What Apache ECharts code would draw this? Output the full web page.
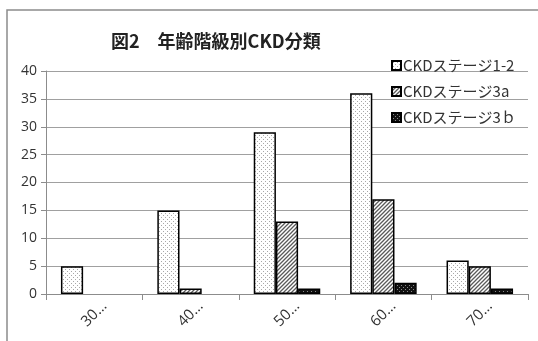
<!DOCTYPE html>
<html>
<head>
<meta charset="utf-8">
<script src="https://cdn.jsdelivr.net/npm/echarts@6/dist/echarts.min.js"></script>
<style>
  html, body { margin: 0; padding: 0; background: #fff; }
  #chart { width: 538px; height: 341px; }
</style>
</head>
<body>
<div id="chart"></div>
<script>
// Age-group categories and counts per CKD stage
const categories = ['30…', '40…', '50…', '60…', '70…'];
const stage12 = [5, 15, 29, 36, 6];
const stage3a = [0, 1, 13, 17, 5];
const stage3b = [0, 0, 1, 2, 1];
const seriesNames = ['CKDステージ1-2', 'CKDステージ3a', 'CKDステージ3ｂ'];
const yTicks = { min: 0, max: 40, interval: 5 };

// Fill patterns drawn on small canvases
function makeCanvas(size, draw) {
  const c = document.createElement('canvas');
  c.width = size; c.height = size;
  draw(c.getContext('2d'), size);
  return c;
}
const dotPattern = makeCanvas(4, (ctx, s) => {
  ctx.fillStyle = '#ffffff'; ctx.fillRect(0, 0, s, s);
  ctx.fillStyle = '#a8a8a8';
  ctx.fillRect(1, 1, 1, 1);
  ctx.fillRect(3, 3, 1, 1);
});
const hatchPattern = makeCanvas(4, (ctx, s) => {
  ctx.fillStyle = '#ffffff'; ctx.fillRect(0, 0, s, s);
  ctx.strokeStyle = '#5a5a5a'; ctx.lineWidth = 1.3;
  ctx.beginPath();
  ctx.moveTo(-1, s + 1); ctx.lineTo(s + 1, -1);
  ctx.moveTo(-1, 1); ctx.lineTo(1, -1);
  ctx.moveTo(s - 1, s + 1); ctx.lineTo(s + 1, s - 1);
  ctx.stroke();
});
const darkDotPattern = makeCanvas(4, (ctx, s) => {
  ctx.fillStyle = '#111111'; ctx.fillRect(0, 0, s, s);
  ctx.fillStyle = '#8a8a8a';
  ctx.fillRect(1, 1, 1, 1);
  ctx.fillRect(3, 3, 1, 1);
});

const patterns = [dotPattern, hatchPattern, darkDotPattern];
const values = [stage12, stage3a, stage3b];

const chart = echarts.init(document.getElementById('chart'));
chart.setOption({
  animation: false,
  backgroundColor: '#ffffff',
  graphic: [{
    type: 'rect',
    shape: { x: 7, y: 10, width: 700, height: 500 },
    style: { fill: 'none', stroke: '#8c8c8c', lineWidth: 1.5 },
    z: -1
  }],
  title: {
    text: '図2　年齢階級別CKD分類',
    left: 106, top: 27,
    textStyle: {
      fontFamily: 'Noto Sans CJK JP', fontSize: 18, fontWeight: 'bold', color: '#222'
    }
  },
  legend: {
    orient: 'vertical',
    left: 386, top: 53,
    itemWidth: 9, itemHeight: 9, itemGap: 11,
    icon: 'rect',
    textStyle: { fontFamily: 'Noto Sans CJK JP', fontSize: 15, color: '#333', padding: [0, 0, 0, -3] },
    data: seriesNames
  },
  grid: { left: 46, right: 10, top: 71, bottom: 47, containLabel: false },
  xAxis: {
    type: 'category',
    data: categories,
    axisLine: { lineStyle: { color: '#8c8c8c', width: 1 } },
    axisTick: { show: true, length: 6, lineStyle: { color: '#8c8c8c' } },
    axisLabel: {
      rotate: 45, margin: 20, align: 'center', verticalAlign: 'middle',
      fontFamily: 'Open Sans', fontSize: 15, color: '#333'
    }
  },
  yAxis: {
    type: 'value',
    min: yTicks.min, max: yTicks.max, interval: yTicks.interval,
    axisLine: { show: true, lineStyle: { color: '#8c8c8c' } },
    axisTick: { show: true, length: 5, lineStyle: { color: '#8c8c8c' } },
    splitLine: { lineStyle: { color: '#a0a0a0', width: 1 } },
    axisLabel: { margin: 9, fontFamily: 'Open Sans', fontSize: 14, color: '#333' }
  },
  series: seriesNames.map((name, i) => ({
    name,
    type: 'bar',
    // zero counts get no outline, so nothing is drawn for them
    data: values[i].map(v => v === 0 ? { value: v, itemStyle: { borderWidth: 0 } } : v),
    barGap: '0%',
    barCategoryGap: '31%',
    itemStyle: {
      color: { image: patterns[i], repeat: 'repeat' },
      borderColor: '#000',
      borderWidth: 1.5
    }
  }))
});
</script>
</body>
</html>
